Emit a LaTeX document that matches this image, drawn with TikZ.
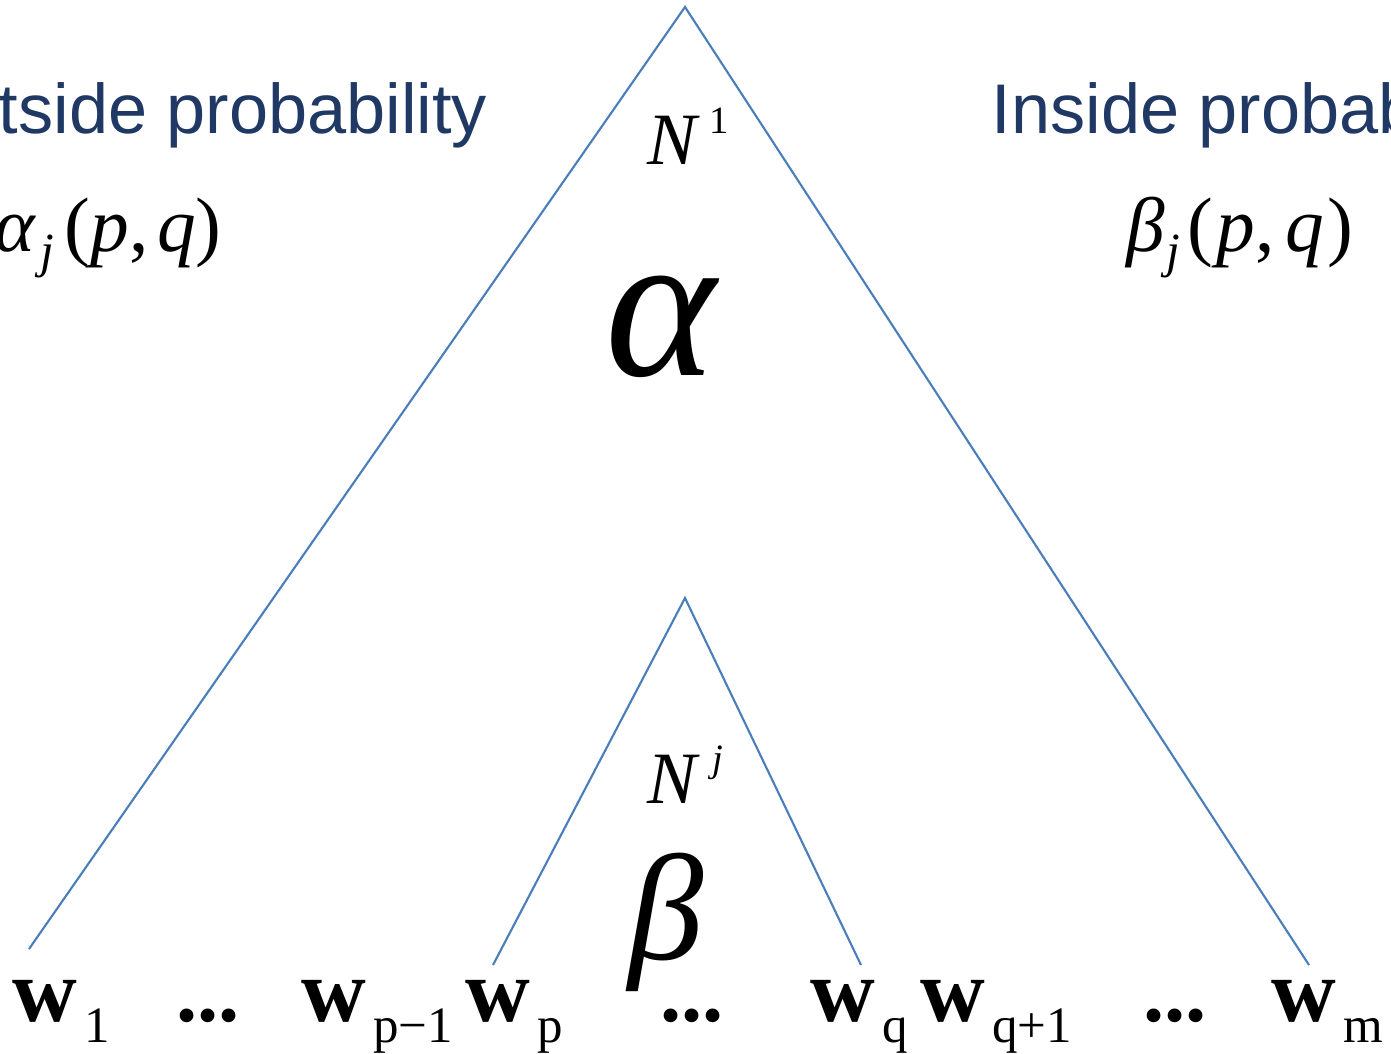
\documentclass[tikz,border=0pt]{standalone}
\usepackage{fontspec}
\setmainfont{Liberation Serif}
\newfontfamily\arialf{Liberation Sans}
\definecolor{bleutitre}{RGB}{31,56,100}
\definecolor{bleuarbre}{RGB}{74,126,187}
\newcommand{\taille}[1]{\fontsize{#1}{#1}\selectfont}
\newcommand{\mot}[1]{{\taille{25.5}\bfseries w}\hspace{2pt}\raisebox{-6pt}{\taille{14.5}#1}}
\begin{document}
\begin{tikzpicture}[etiq/.style={inner sep=0pt, anchor=base west},
	trait/.style={bleuarbre, line width=0.6pt}]
	% Dimensions du cadre
	\def\xmax{13.91}
	\def\ymax{10.53}
	\useasboundingbox (0,0) rectangle (\xmax,\ymax);
	\clip (0,0) rectangle (\xmax,\ymax);
	% Sommets des arbres
	\coordinate (racine) at (6.85,10.46);
	\coordinate (g1) at (0.29,1.04);
	\coordinate (dm) at (13.09,0.88);
	\coordinate (noeud) at (6.85,4.55);
	\coordinate (gp) at (4.93,0.88);
	\coordinate (dq) at (8.61,0.88);
	\draw [trait] (g1) -- (racine) -- (dm);
	\draw [trait] (gp) -- (noeud) -- (dq);
	% Titres
	\node [bleutitre, inner sep=0pt, anchor=base east] (outside) at (4.88,9.19) {\arialf\taille{20}Outside probability};
	\node [bleutitre, etiq] (inside) at (9.91,9.19) {\arialf\taille{20}Inside probability};
	\node [etiq] (alphaj) at (-0.06,8.01) {\taille{22}\itshape α\hspace{1.5pt}\raisebox{-4.5pt}{\taille{14}j}\hspace{3pt}{\upshape(}p{\upshape,}\hspace{2.5pt}q{\upshape)}};
	\node [etiq] (betaj) at (11.26,8.01) {\taille{22}\itshape β\hspace{0.5pt}\raisebox{-4.5pt}{\taille{14}j}\hspace{2pt}{\upshape(}\hspace{1pt}p{\upshape,}\hspace{3pt}q\hspace{1pt}{\upshape)}};
	% Noeuds
	\node [etiq] (N1) at (6.47,8.88) {\taille{21}\itshape N\hspace{3.5pt}\raisebox{9pt}{\upshape\taille{11}1}};
	\node [etiq] (Nj) at (6.47,2.50) {\taille{21}\itshape N\hspace{4.5pt}\raisebox{9pt}{\taille{11}j}};
	\node [inner sep=0pt] (alpha) at (6.61,7.26) {\taille{60}\itshape α};
	\node [inner sep=0pt] (beta) at (6.66,1.31) {\taille{43}\itshape β};
	% Mots
	\node [etiq] (w1) at (0.12,0.32) {\mot{1}};
	\node [etiq] (pts1) at (1.76,0.32) {\taille{24}\bfseries ...};
	\node [etiq] (wp1) at (3.01,0.32) {\mot{p−1}};
	\node [etiq] (wp) at (4.65,0.32) {\mot{p}};
	\node [etiq] (pts2) at (6.60,0.32) {\taille{24}\bfseries ...};
	\node [etiq] (wq) at (8.10,0.32) {\mot{q}};
	\node [etiq] (wq1) at (9.20,0.32) {\mot{q+1}};
	\node [etiq] (pts3) at (11.43,0.32) {\taille{24}\bfseries ...};
	\node [etiq] (wm) at (12.71,0.32) {\mot{m}};
\end{tikzpicture}
\end{document}
